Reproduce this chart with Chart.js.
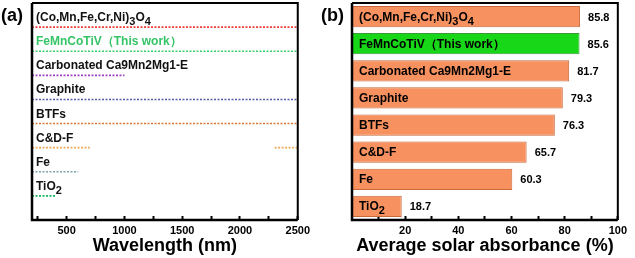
<!DOCTYPE html>
<html>
<head>
<meta charset="utf-8">
<script src="https://cdn.jsdelivr.net/npm/chart.js@4"></script>
<style>
  html, body { margin: 0; padding: 0; background: #fff; }
  .panel { position: absolute; top: 0; height: 258px; }
</style>
</head>
<body>
<div class="panel" style="left:0;width:318px"><canvas id="chartA"></canvas></div>
<div class="panel" style="left:318px;width:317px"><canvas id="chartB"></canvas></div>
<script>
// "_3" marks a subscript digit
const samples = ["(Co,Mn,Fe,Cr,Ni)_3O_4", "FeMnCoTiV（This work）", "Carbonated Ca9Mn2Mg1-E", "Graphite", "BTFs", "C&D-F", "Fe", "TiO_2"];
// panel (a): stacked offset level and measured wavelength ranges (nm)
const levelsA = [8, 7, 6, 5, 4, 3, 2, 1];
const rangesA = [
    [[200, 2500]],
    [[200, 2500]],
    [[200, 1000]],
    [[200, 2500]],
    [[200, 2500]],
    [[200, 700], [2300, 2500]],
    [[200, 600]],
    [[200, 400]],
];
const wavelengthTicks = [250, 500, 750, 1000, 1250, 1500, 1750, 2000, 2250, 2500];
// panel (b): average solar absorbance (%)
const absorbance = [85.8, 85.6, 81.7, 79.3, 76.3, 65.7, 60.3, 18.7];
const absorbanceTicks = [10, 20, 30, 40, 50, 60, 70, 80, 90, 100];

const lineColors = ["#EE3B36", "#3CCB6C", "#A040C0", "#5A5AA8", "#D9783A", "#EBAA55", "#7AA5A5", "#12B860"];
const labelColorsA = ["#111", "#35C466", "#111", "#111", "#111", "#111", "#111", "#111"];
const family = "'Liberation Sans', Arial, sans-serif";
Chart.defaults.font.family = family;
Chart.defaults.color = "#000";

function drawRich(ctx, text, x, y, size) {
    const parts = text.split(/_(\d)/);
    parts.forEach((p, i) => {
        if (!p) return;
        const sub = i % 2 === 1;
        ctx.font = "bold " + (sub ? size - 1 : size) + "px " + family;
        ctx.fillText(p, x, sub ? y + 4 : y);
        x += ctx.measureText(p).width;
    });
}

const framePlugin = {
    id: "frame",
    afterDraw: (chart) => {
        const { ctx, chartArea: a } = chart;
        ctx.save();
        ctx.strokeStyle = "#000";
        ctx.lineWidth = 2;
        ctx.beginPath();
        ctx.moveTo(a.left, a.top);
        ctx.lineTo(a.right, a.top);
        ctx.lineTo(a.right, a.bottom);
        ctx.stroke();
        ctx.lineWidth = 2.5;
        ctx.beginPath();
        ctx.moveTo(a.left, a.top);
        ctx.lineTo(a.left, a.bottom);
        ctx.lineTo(a.right, a.bottom);
        ctx.stroke();
        ctx.restore();
    },
};

const panelTag = (tag, x) => ({
    id: "tag",
    afterDraw: (chart) => {
        const ctx = chart.ctx;
        ctx.save();
        ctx.fillStyle = "#000";
        ctx.font = "bold 18px " + family;
        ctx.textBaseline = "alphabetic";
        ctx.fillText(tag, x, 21);
        ctx.restore();
    },
});

const labelsA = {
    id: "labelsA",
    afterDatasetsDraw: (chart) => {
        const { ctx, chartArea } = chart;
        const ys = chart.scales.y;
        ctx.save();
        ctx.textBaseline = "alphabetic";
        samples.forEach((name, i) => {
            ctx.fillStyle = labelColorsA[i];
            drawRich(ctx, name, chartArea.left + 4, ys.getPixelForValue(levelsA[i]) - 6, 12);
        });
        ctx.restore();
    },
};

const labelsB = {
    id: "labelsB",
    afterDatasetsDraw: (chart) => {
        const ctx = chart.ctx;
        const meta = chart.getDatasetMeta(0);
        ctx.save();
        ctx.fillStyle = "#000";
        ctx.textBaseline = "alphabetic";
        meta.data.forEach((bar, i) => {
            drawRich(ctx, samples[i], bar.base + 7, bar.y + 4, 12);
            ctx.font = "bold 11px " + family;
            ctx.fillText(absorbance[i].toFixed(1), bar.x + 8, bar.y + 4);
        });
        ctx.restore();
    },
};

const bottomAxis = (title, min, max, ticks, labelEvery) => ({
    type: "linear",
    min: min,
    max: max,
    afterBuildTicks: (scale) => {
        scale.ticks = ticks.map((v) => ({ value: v }));
    },
    afterFit: (scale) => {
        scale.height = 38;
    },
    border: { display: false },
    grid: {
        drawOnChartArea: false,
        drawTicks: true,
        tickLength: -4,
        tickColor: "#000",
        tickWidth: 2,
    },
    ticks: {
        padding: 8,
        maxRotation: 0,
        autoSkip: false,
        font: { size: 11, weight: "bold" },
        callback: (v) => (v % labelEvery === 0 ? String(v) : ""),
    },
    title: {
        display: true,
        text: title,
        font: { size: 18, weight: "bold" },
        padding: { top: 0, bottom: 1 },
    },
});

new Chart(document.getElementById("chartA"), {
    type: "line",
    data: {
        datasets: samples.map((name, i) => {
            const pts = [];
            rangesA[i].forEach((r, k) => {
                if (k > 0) pts.push({ x: (rangesA[i][k - 1][1] + r[0]) / 2, y: null });
                pts.push({ x: r[0], y: levelsA[i] }, { x: r[1], y: levelsA[i] });
            });
            return {
                label: name,
                data: pts,
                borderColor: lineColors[i],
                borderWidth: 1.6,
                borderDash: [2, 1.5],
                pointRadius: 0,
                spanGaps: false,
                fill: false,
            };
        }),
    },
    options: {
        responsive: true,
        maintainAspectRatio: false,
        animation: false,
        layout: { padding: { left: 32, right: 15, top: 3, bottom: 0 } },
        plugins: { legend: { display: false }, tooltip: { enabled: false } },
        scales: {
            x: bottomAxis("Wavelength (nm)", 200, 2500, wavelengthTicks, 500),
            y: { type: "linear", min: 0, max: 9, display: false },
        },
    },
    plugins: [labelsA, framePlugin, panelTag("(a)", 1)],
});

new Chart(document.getElementById("chartB"), {
    type: "bar",
    data: {
        labels: samples,
        datasets: [
            {
                data: absorbance,
                backgroundColor: absorbance.map((v, i) => (i === 1 ? "#18D618" : "#F7915F")),
                borderColor: absorbance.map((v, i) => (i === 1 ? "#3A9A3A" : "#C9693B")),
                borderWidth: 1,
                barPercentage: 0.78,
                categoryPercentage: 1,
            },
        ],
    },
    options: {
        indexAxis: "y",
        responsive: true,
        maintainAspectRatio: false,
        animation: false,
        layout: { padding: { left: 34, right: 11, top: 3, bottom: 0 } },
        plugins: { legend: { display: false }, tooltip: { enabled: false } },
        scales: {
            x: bottomAxis("Average solar absorbance (%)", 0, 100, absorbanceTicks, 20),
            y: { display: false },
        },
    },
    plugins: [labelsB, framePlugin, panelTag("(b)", 3)],
});
</script>
</body>
</html>
